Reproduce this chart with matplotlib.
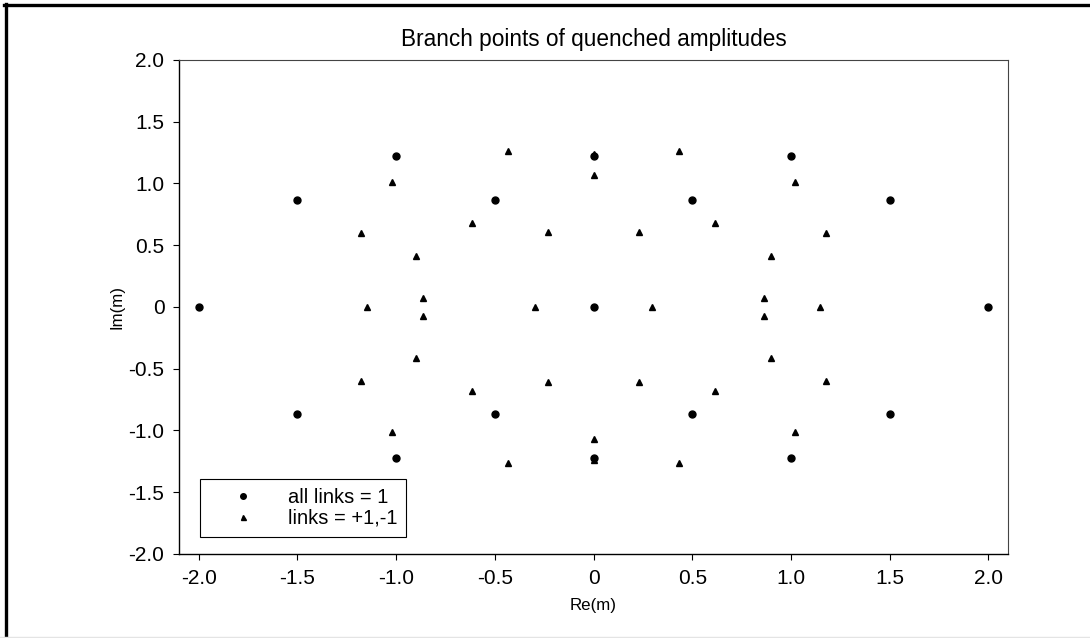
import matplotlib
matplotlib.use("Agg")
import matplotlib.pyplot as plt
from matplotlib.lines import Line2D

plt.rcParams['font.family'] = ['Liberation Sans', 'DejaVu Sans']

# branch points, all links = 1
circle_re = [-2.0, 2.0, 0.0,
             -1.5, -1.5, 1.5, 1.5,
             -0.5, -0.5, 0.5, 0.5,
             -1.0, -1.0, 1.0, 1.0,
             0.0, 0.0]
circle_im = [0.0, 0.0, 0.0,
             0.866, -0.866, 0.866, -0.866,
             0.866, -0.866, 0.866, -0.866,
             1.225, -1.225, 1.225, -1.225,
             1.225, -1.225]

# branch points, links = +1,-1
tri_re = [-0.435, -0.435, 0.435, 0.435,
          -1.02, -1.02, 1.02, 1.02,
          0.0, 0.0, 0.0, 0.0,
          -1.177, -1.177, 1.177, 1.177,
          -0.618, -0.618, 0.618, 0.618,
          -0.228, -0.228, 0.228, 0.228,
          -0.90, -0.90, 0.90, 0.90,
          -0.862, -0.862, 0.862, 0.862,
          -1.148, 1.148, -0.298, 0.298]
tri_im = [1.265, -1.265, 1.265, -1.265,
          1.013, -1.013, 1.013, -1.013,
          1.065, -1.065, 1.24, -1.24,
          0.60, -0.60, 0.60, -0.60,
          0.68, -0.68, 0.68, -0.68,
          0.605, -0.605, 0.605, -0.605,
          0.41, -0.41, 0.41, -0.41,
          0.07, -0.07, 0.07, -0.07,
          0.0, 0.0, 0.0, 0.0]

ticks = [-2.0, -1.5, -1.0, -0.5, 0.0, 0.5, 1.0, 1.5, 2.0]
tick_labels = ['-2.0', '-1.5', '-1.0', '-0.5', '0', '0.5', '1.0', '1.5', '2.0']

fig = plt.figure(figsize=(10.9, 6.38), dpi=100)
ax = fig.add_axes([0.1642, 0.1317, 0.7606, 0.7743])

ax.plot(circle_re, circle_im, linestyle='none', marker='o', markersize=5,
        color='black', label='all links = 1')
ax.plot(tri_re, tri_im, linestyle='none', marker='^', markersize=4.5,
        color='black', label='links = +1,-1')

ax.set_xlim(-2.1, 2.1)
ax.set_ylim(-2.0, 2.0)
ax.set_xticks(ticks)
ax.set_xticklabels(tick_labels)
ax.set_yticks(ticks)
ax.set_yticklabels(tick_labels)
ax.tick_params(direction='out', length=4.5, width=0.8, pad=6, labelsize=15,
               color='black')

for side in ['left', 'bottom']:
    ax.spines[side].set_color('black')
    ax.spines[side].set_linewidth(1.0)
for side in ['top', 'right']:
    ax.spines[side].set_color('#444444')
    ax.spines[side].set_linewidth(0.8)

ax.set_title('Branch points of quenched amplitudes', fontsize=16.3, pad=10)
ax.set_xlabel('Re(m)', fontsize=12.2, labelpad=7.5)
ax.set_ylabel('Im(m)', fontsize=12.2, labelpad=3)

leg = ax.legend(loc='lower left', bbox_to_anchor=(0.0253, 0.0344),
                borderaxespad=0, fancybox=False, framealpha=1,
                edgecolor='black', fontsize=14.5, markerscale=0.8,
                handlelength=3.4, handletextpad=0.5, borderpad=0.45,
                labelspacing=0.08)
leg.get_frame().set_linewidth(0.8)

# outer frame: heavy left and top edges, faint bottom edge
fig.add_artist(Line2D([5.5 / 1090, 5.5 / 1090], [0, 1 - 4 / 638],
                      transform=fig.transFigure, color='black', linewidth=2.4))
fig.add_artist(Line2D([4 / 1090, 1], [1 - 5 / 638, 1 - 5 / 638],
                      transform=fig.transFigure, color='black', linewidth=2.4))
fig.add_artist(Line2D([0, 1], [1.5 / 638, 1.5 / 638],
                      transform=fig.transFigure, color='#e4e4e4', linewidth=1))

fig.savefig('out.png', dpi=100)
